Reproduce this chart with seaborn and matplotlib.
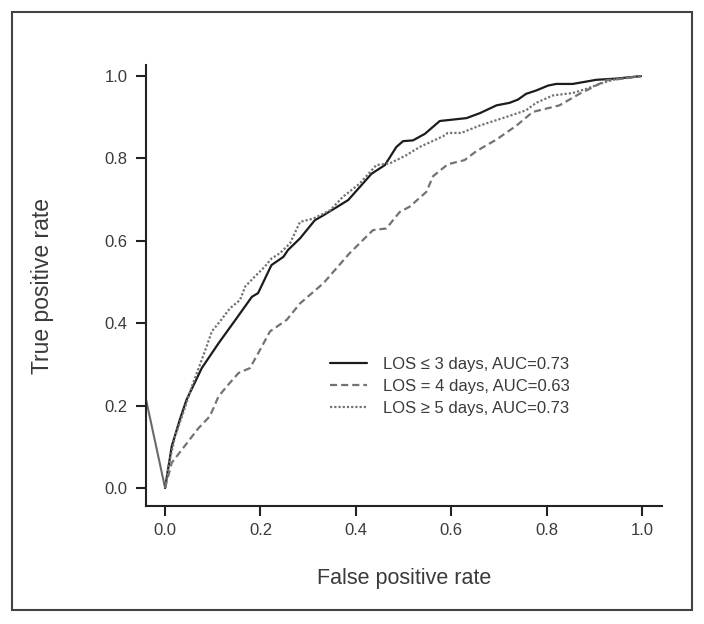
import matplotlib
matplotlib.use("Agg")
import matplotlib.pyplot as plt
import seaborn as sns
import pandas as pd
from matplotlib.patches import Rectangle

# ---- data ----
fpr_le3 = [0.0, 0.014, 0.031, 0.045, 0.077, 0.112, 0.150, 0.182, 0.195, 0.223, 0.248, 0.258,
           0.283, 0.314, 0.332, 0.384, 0.433, 0.461, 0.485, 0.499, 0.520, 0.545, 0.576,
           0.632, 0.660, 0.695, 0.722, 0.740, 0.757, 0.778, 0.803, 0.820, 0.855, 0.904,
           0.946, 0.998]
tpr_le3 = [0.0, 0.101, 0.166, 0.214, 0.291, 0.351, 0.412, 0.464, 0.473, 0.541, 0.561, 0.578,
           0.606, 0.650, 0.662, 0.699, 0.763, 0.784, 0.828, 0.842, 0.844, 0.860, 0.891,
           0.898, 0.910, 0.929, 0.935, 0.943, 0.957, 0.965, 0.977, 0.981, 0.981, 0.991,
           0.994, 1.0]

fpr_eq4 = [0.0, 0.014, 0.038, 0.070, 0.094, 0.112, 0.129, 0.154, 0.178, 0.199, 0.220, 0.255,
           0.283, 0.332, 0.387, 0.436, 0.464, 0.492, 0.513, 0.548, 0.562, 0.593, 0.628,
           0.653, 0.695, 0.737, 0.771, 0.799, 0.827, 0.869, 0.897, 0.925, 0.960, 0.998]
tpr_eq4 = [0.0, 0.061, 0.097, 0.145, 0.174, 0.222, 0.246, 0.279, 0.291, 0.335, 0.380, 0.408,
           0.448, 0.497, 0.570, 0.626, 0.630, 0.670, 0.683, 0.719, 0.757, 0.786, 0.796,
           0.818, 0.846, 0.880, 0.913, 0.921, 0.929, 0.957, 0.973, 0.990, 0.994, 1.0]

fpr_ge5 = [0.0, 0.007, 0.021, 0.038, 0.056, 0.073, 0.087, 0.098, 0.115, 0.136, 0.157, 0.168,
           0.188, 0.209, 0.223, 0.241, 0.262, 0.283, 0.311, 0.346, 0.373, 0.408, 0.443,
           0.471, 0.506, 0.534, 0.583, 0.593, 0.621, 0.660, 0.716, 0.757, 0.778, 0.813,
           0.855, 0.883, 0.911, 0.939, 0.998]
tpr_ge5 = [0.0, 0.052, 0.125, 0.182, 0.246, 0.299, 0.343, 0.380, 0.404, 0.436, 0.456, 0.489,
           0.513, 0.537, 0.557, 0.570, 0.594, 0.646, 0.654, 0.674, 0.707, 0.739, 0.784,
           0.788, 0.808, 0.828, 0.854, 0.862, 0.862, 0.880, 0.901, 0.917, 0.935, 0.953,
           0.959, 0.969, 0.981, 0.991, 1.0]

labels = ["LOS \u2264 3 days, AUC=0.73", "LOS = 4 days, AUC=0.63", "LOS \u2265 5 days, AUC=0.73"]
ref_x = [-0.04, 0.0]
ref_y = [0.215, 0.0]

x_ticks = [0.0, 0.2, 0.4, 0.6, 0.8, 1.0]
y_ticks = [0.0, 0.2, 0.4, 0.6, 0.8, 1.0]

# ---- style ----
sns.set_style("ticks")
plt.rcParams["font.family"] = ["Liberation Sans", "DejaVu Sans"]
txt = "#3a3a3a"

fig = plt.figure(figsize=(7.04, 6.24), dpi=100)
ax = fig.add_axes([146/704, 1-506/624, (662-146)/704, (506-65)/624])

sns.lineplot(x=ref_x, y=ref_y, ax=ax, color="#6a6a6a", lw=1.5, legend=False)
df1 = pd.DataFrame({"x": fpr_le3, "y": tpr_le3})
df2 = pd.DataFrame({"x": fpr_eq4, "y": tpr_eq4})
df3 = pd.DataFrame({"x": fpr_ge5, "y": tpr_ge5})
sns.lineplot(data=df1, x="x", y="y", ax=ax, color="#1c1c1c", lw=1.6,
             estimator=None, sort=False, label=labels[0])
sns.lineplot(data=df2, x="x", y="y", ax=ax, color="#737373", lw=1.6,
             estimator=None, sort=False, label=labels[1])
sns.lineplot(data=df3, x="x", y="y", ax=ax, color="#737373", lw=1.6,
             estimator=None, sort=False, label=labels[2])
lines = ax.get_lines()
lines[2].set_linestyle((0, (3.2, 1.8)))
lines[3].set_linestyle((0, (1.0, 0.9)))

ax.set_xlim(-0.04, 1.042)
ax.set_ylim(-0.044, 1.027)
ax.set_xticks(x_ticks)
ax.set_yticks(y_ticks)
ax.set_xticklabels([f"{v:.1f}" for v in x_ticks])
ax.set_yticklabels([f"{v:.1f}" for v in y_ticks])
for s in ["top", "right"]:
    ax.spines[s].set_visible(False)
for s in ["left", "bottom"]:
    ax.spines[s].set_linewidth(1.5)
    ax.spines[s].set_color("#222222")
ax.tick_params(axis="both", length=7.5, width=1.5, color="#222222",
               labelsize=12, labelcolor=txt)
ax.tick_params(axis="y", pad=6)
ax.tick_params(axis="x", pad=5)
ax.set_xlabel("False positive rate", fontsize=15.5, color=txt, labelpad=21)
ax.set_ylabel("True positive rate", fontsize=16.5, color=txt, labelpad=36)

leg = ax.legend(loc="upper left", bbox_to_anchor=(0.357, 0.339), frameon=False,
                borderpad=0, borderaxespad=0, handlelength=2.2, handletextpad=0.95,
                labelspacing=0.42, fontsize=12)
for t in leg.get_texts():
    t.set_color(txt)

fig.patches.append(Rectangle((12/704, 1-610/624), 680/704, 598/624,
                             transform=fig.transFigure, fill=False,
                             edgecolor="#444444", lw=1.5))

fig.savefig("out.png", dpi=100)
